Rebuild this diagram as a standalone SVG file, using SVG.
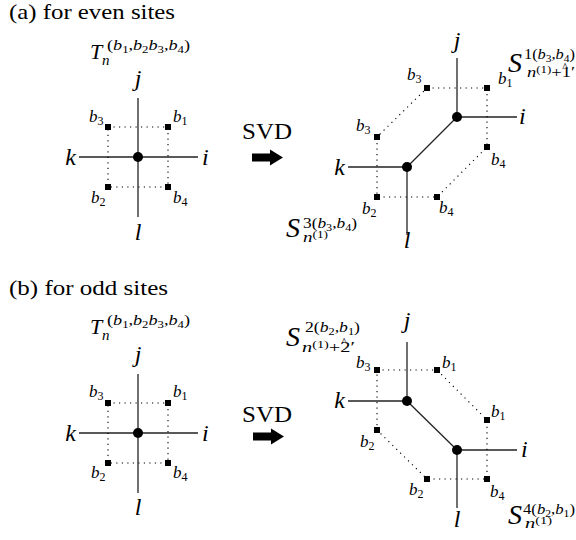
<svg xmlns="http://www.w3.org/2000/svg" width="576" height="540" viewBox="0 0 576 540">
<style>
text{font-family:'Liberation Serif','DejaVu Serif','Times New Roman',serif;fill:#000}
.it{font-style:italic}
.ttl{font-size:22px}
.svd{font-size:23px}
.lbl{font-size:24px;font-style:italic}
.bl{font-size:17px;font-style:italic}
.bs{font-size:12px;font-style:normal}
.cal{font-size:22px;font-style:italic}
.calS{font-size:28px;font-style:italic}
.sp{font-size:15px}
.ss{font-size:10.5px;font-style:normal}
.hat{font-size:12px;font-style:normal}
.leg{stroke:#222;stroke-width:1.3;fill:none}
.dt{stroke:#000;stroke-width:1.1;stroke-dasharray:1.2 4.3;fill:none}
.nd{fill:#000}
</style>
<defs>
<rect id="sq" x="-3" y="-3" width="6" height="6" fill="#000"/>
<path id="arw" d="M0,-4 H18 V-8 L31,0 L18,8 V4 H0 Z" fill="#000"/>
</defs>

<g font-family="Liberation Serif, DejaVu Serif, serif">
<!-- titles -->
<text class="ttl" x="9" y="19" textLength="166" lengthAdjust="spacingAndGlyphs">(a) for even sites</text>
<text class="ttl" x="9" y="295" textLength="159" lengthAdjust="spacingAndGlyphs">(b) for odd sites</text>

<!-- SVD arrows -->
<g id="svd-a">
<text class="svd" x="242" y="139" textLength="50" lengthAdjust="spacingAndGlyphs">SVD</text>
<use href="#arw" x="252" y="157.5"/>
</g>
<g id="svd-b">
<text class="svd" x="242" y="422" textLength="50" lengthAdjust="spacingAndGlyphs">SVD</text>
<use href="#arw" x="253" y="436.5"/>
</g>

<g id="connectors">
<!-- a left -->
<line class="leg" x1="138" y1="98" x2="138" y2="217"/>
<line class="leg" x1="79" y1="157" x2="198" y2="157"/>
<path class="dt" d="M108,127 H168 V187 H108 Z"/>
<!-- a right -->
<line class="leg" x1="457" y1="58" x2="457" y2="117"/>
<line class="leg" x1="457" y1="117" x2="517" y2="117"/>
<line class="leg" x1="348" y1="167" x2="407" y2="167"/>
<line class="leg" x1="407" y1="167" x2="407" y2="235"/>
<line class="leg" x1="457" y1="117" x2="407" y2="167"/>
<path class="dt" d="M427,88 H487 V147 L437,197 H377 V137 Z"/>
<!-- b left -->
<line class="leg" x1="138" y1="374" x2="138" y2="493"/>
<line class="leg" x1="79" y1="433" x2="198" y2="433"/>
<path class="dt" d="M108,403 H168 V463 H108 Z"/>
<!-- b right -->
<line class="leg" x1="407" y1="342" x2="407" y2="401"/>
<line class="leg" x1="348" y1="401" x2="407" y2="401"/>
<line class="leg" x1="457" y1="450" x2="517" y2="450"/>
<line class="leg" x1="457" y1="450" x2="457" y2="508"/>
<line class="leg" x1="407" y1="401" x2="457" y2="450"/>
<path class="dt" d="M377,370 H437 L487,420 V479 H427 L377,430 Z"/>
</g>

<!-- Panel a left: tensor T -->
<g id="node-aT">
<circle class="nd" cx="138" cy="157" r="5"/>
<text class="cal" x="90" y="59">T</text>
<text class="sp it" x="102" y="65">n</text>
<text class="sp" x="107" y="50" textLength="83" lengthAdjust="spacingAndGlyphs">(<tspan class="it">b</tspan><tspan class="ss" dy="2.5">1</tspan><tspan dy="-2.5">,</tspan><tspan class="it">b</tspan><tspan class="ss" dy="2.5">2</tspan><tspan class="it" dy="-2.5">b</tspan><tspan class="ss" dy="2.5">3</tspan><tspan dy="-2.5">,</tspan><tspan class="it">b</tspan><tspan class="ss" dy="2.5">4</tspan><tspan dy="-2.5">)</tspan></text>
<text class="lbl" x="138" y="86" text-anchor="middle">j</text>
<text class="lbl" x="76" y="165" text-anchor="end">k</text>
<text class="lbl" x="202" y="165">i</text>
<text class="lbl" x="138" y="240" text-anchor="middle">l</text>
</g>
<g id="markers-aT">
<use href="#sq" x="108" y="127"/><use href="#sq" x="168" y="127"/>
<use href="#sq" x="108" y="187"/><use href="#sq" x="168" y="187"/>
<text class="bl" x="89" y="122">b<tspan class="bs" dy="3">3</tspan></text>
<text class="bl" x="173" y="122">b<tspan class="bs" dy="3">1</tspan></text>
<text class="bl" x="91" y="203">b<tspan class="bs" dy="3">2</tspan></text>
<text class="bl" x="173" y="203">b<tspan class="bs" dy="3">4</tspan></text>
</g>

<!-- Panel a right: S1 and S3 -->
<g id="node-aS1">
<circle class="nd" cx="457" cy="117" r="5"/>
<text class="calS" x="508" y="72">S</text>
<text class="sp" x="524" y="59" textLength="51" lengthAdjust="spacingAndGlyphs">1(<tspan class="it">b</tspan><tspan class="ss" dy="2.5">3</tspan><tspan dy="-2.5">,</tspan><tspan class="it">b</tspan><tspan class="ss" dy="2.5">4</tspan><tspan dy="-2.5">)</tspan></text>
<text class="sp" x="527" y="77" textLength="48" lengthAdjust="spacingAndGlyphs"><tspan class="it">n</tspan><tspan class="ss" dy="-4">(1)</tspan><tspan dy="4">+1′</tspan></text>
<text class="hat" x="565" y="71" text-anchor="middle">^</text>
<text class="lbl" x="457" y="48" text-anchor="middle">j</text>
<text class="lbl" x="519" y="124">i</text>
</g>
<g id="node-aS3">
<circle class="nd" cx="407" cy="167" r="5"/>
<text class="calS" x="286" y="237">S</text>
<text class="sp" x="303" y="228" textLength="54" lengthAdjust="spacingAndGlyphs">3(<tspan class="it">b</tspan><tspan class="ss" dy="2.5">3</tspan><tspan dy="-2.5">,</tspan><tspan class="it">b</tspan><tspan class="ss" dy="2.5">4</tspan><tspan dy="-2.5">)</tspan></text>
<text class="sp" x="303" y="242" textLength="25" lengthAdjust="spacingAndGlyphs"><tspan class="it">n</tspan><tspan class="ss" dy="-4">(1)</tspan></text>
<text class="lbl" x="345" y="175" text-anchor="end">k</text>
<text class="lbl" x="407" y="248" text-anchor="middle">l</text>
</g>
<g id="markers-aS">
<use href="#sq" x="427" y="88"/><use href="#sq" x="487" y="88"/>
<use href="#sq" x="377" y="137"/><use href="#sq" x="487" y="147"/>
<use href="#sq" x="377" y="197"/><use href="#sq" x="437" y="197"/>
<text class="bl" x="407" y="80">b<tspan class="bs" dy="3">3</tspan></text>
<text class="bl" x="498" y="84">b<tspan class="bs" dy="3">1</tspan></text>
<text class="bl" x="356" y="131">b<tspan class="bs" dy="3">3</tspan></text>
<text class="bl" x="491" y="165">b<tspan class="bs" dy="3">4</tspan></text>
<text class="bl" x="362" y="214">b<tspan class="bs" dy="3">2</tspan></text>
<text class="bl" x="439" y="213">b<tspan class="bs" dy="3">4</tspan></text>
</g>

<!-- Panel b left: tensor T -->
<g id="node-bT">
<circle class="nd" cx="138" cy="433" r="5"/>
<text class="cal" x="90" y="334">T</text>
<text class="sp it" x="102" y="340">n</text>
<text class="sp" x="107" y="325" textLength="83" lengthAdjust="spacingAndGlyphs">(<tspan class="it">b</tspan><tspan class="ss" dy="2.5">1</tspan><tspan dy="-2.5">,</tspan><tspan class="it">b</tspan><tspan class="ss" dy="2.5">2</tspan><tspan class="it" dy="-2.5">b</tspan><tspan class="ss" dy="2.5">3</tspan><tspan dy="-2.5">,</tspan><tspan class="it">b</tspan><tspan class="ss" dy="2.5">4</tspan><tspan dy="-2.5">)</tspan></text>
<text class="lbl" x="138" y="362" text-anchor="middle">j</text>
<text class="lbl" x="76" y="441" text-anchor="end">k</text>
<text class="lbl" x="202" y="441">i</text>
<text class="lbl" x="138" y="515" text-anchor="middle">l</text>
</g>
<g id="markers-bT">
<use href="#sq" x="108" y="403"/><use href="#sq" x="168" y="403"/>
<use href="#sq" x="108" y="463"/><use href="#sq" x="168" y="463"/>
<text class="bl" x="89" y="397">b<tspan class="bs" dy="3">3</tspan></text>
<text class="bl" x="173" y="397">b<tspan class="bs" dy="3">1</tspan></text>
<text class="bl" x="91" y="478">b<tspan class="bs" dy="3">2</tspan></text>
<text class="bl" x="173" y="478">b<tspan class="bs" dy="3">4</tspan></text>
</g>

<!-- Panel b right: S2 and S4 -->
<g id="node-bS2">
<circle class="nd" cx="407" cy="401" r="5"/>
<text class="calS" x="286" y="346">S</text>
<text class="sp" x="305" y="332" textLength="55" lengthAdjust="spacingAndGlyphs">2(<tspan class="it">b</tspan><tspan class="ss" dy="2.5">2</tspan><tspan dy="-2.5">,</tspan><tspan class="it">b</tspan><tspan class="ss" dy="2.5">1</tspan><tspan dy="-2.5">)</tspan></text>
<text class="sp" x="302" y="352" textLength="53" lengthAdjust="spacingAndGlyphs"><tspan class="it">n</tspan><tspan class="ss" dy="-4">(1)</tspan><tspan dy="4">+2′</tspan></text>
<text class="hat" x="344" y="346" text-anchor="middle">^</text>
<text class="lbl" x="407" y="328" text-anchor="middle">j</text>
<text class="lbl" x="345" y="408" text-anchor="end">k</text>
</g>
<g id="node-bS4">
<circle class="nd" cx="457" cy="450" r="5"/>
<text class="calS" x="508" y="524">S</text>
<text class="sp" x="523" y="514" textLength="52" lengthAdjust="spacingAndGlyphs">4(<tspan class="it">b</tspan><tspan class="ss" dy="2.5">2</tspan><tspan dy="-2.5">,</tspan><tspan class="it">b</tspan><tspan class="ss" dy="2.5">1</tspan><tspan dy="-2.5">)</tspan></text>
<text class="sp" x="525" y="528" textLength="27" lengthAdjust="spacingAndGlyphs"><tspan class="it">n</tspan><tspan class="ss" dy="-4">(1)</tspan></text>
<text class="lbl" x="521" y="457">i</text>
<text class="lbl" x="457" y="527" text-anchor="middle">l</text>
</g>
<g id="markers-bS">
<use href="#sq" x="377" y="370"/><use href="#sq" x="437" y="370"/>
<use href="#sq" x="487" y="420"/><use href="#sq" x="377" y="430"/>
<use href="#sq" x="427" y="479"/><use href="#sq" x="487" y="479"/>
<text class="bl" x="356" y="368">b<tspan class="bs" dy="3">3</tspan></text>
<text class="bl" x="442" y="368">b<tspan class="bs" dy="3">1</tspan></text>
<text class="bl" x="491" y="417">b<tspan class="bs" dy="3">1</tspan></text>
<text class="bl" x="360" y="447">b<tspan class="bs" dy="3">2</tspan></text>
<text class="bl" x="409" y="495">b<tspan class="bs" dy="3">2</tspan></text>
<text class="bl" x="490" y="497">b<tspan class="bs" dy="3">4</tspan></text>
</g>
</g>
</svg>
